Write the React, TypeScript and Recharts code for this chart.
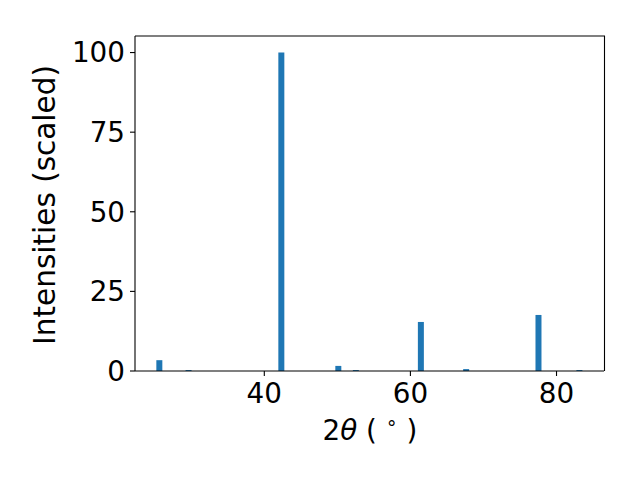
import { Bar, BarChart, Label, XAxis, YAxis } from "recharts";

// posisi puncak (2θ) dan intensitas relatif
const twoTheta = [25.6, 29.6, 42.3, 50.1, 52.5, 61.4, 67.6, 77.5, 83.1];
const intensity = [3.4, 0.3, 100, 1.6, 0.3, 15.4, 0.6, 17.6, 0.3];
const xTicks = [40, 60, 80];
const yTicks = [0, 25, 50, 75, 100];

const data = twoTheta.map((x, i) => ({ x, y: intensity[i] }));

const FONT = "DejaVu Sans";
const FS = 27.8;

export default function App() {
  return (
    <div style={{ position: "absolute", left: 0, top: 0, width: 640, height: 480, background: "#fff" }}>
      <BarChart
        width={640}
        height={480}
        data={data}
        margin={{ top: 36, right: 36, left: 0, bottom: 0 }}
        style={{ fontFamily: FONT }}
      >
        <XAxis
          dataKey="x"
          type="number"
          domain={[22.3, 86.5]}
          ticks={xTicks}
          height={109}
          tickSize={5}
          tickMargin={7}
          stroke="#000"
          tick={{ fill: "#000", fontSize: FS, fontFamily: FONT }}
          tickLine={{ stroke: "#000", strokeWidth: 1.1 }}
          axisLine={{ stroke: "#000", strokeWidth: 1.1 }}
        >
          <Label
            content={() => (
              <text x={370} y={440} textAnchor="middle" fontSize={FS} fontFamily={FONT} fill="#000">
                <tspan>2</tspan>
                <tspan fontStyle="italic">θ</tspan>
                <tspan> ( </tspan>
                <tspan dy={-11} fontSize={19}>∘</tspan>
                <tspan dy={11}> )</tspan>
              </text>
            )}
          />
        </XAxis>
        <YAxis
          type="number"
          domain={[0, 105.2]}
          ticks={yTicks}
          width={135}
          tickSize={5}
          tickMargin={5}
          stroke="#000"
          tick={{ fill: "#000", fontSize: FS, fontFamily: FONT }}
          tickLine={{ stroke: "#000", strokeWidth: 1.1 }}
          axisLine={{ stroke: "#000", strokeWidth: 1.1 }}
        >
          <Label
            content={() => (
              <text
                x={55}
                y={205}
                transform="rotate(-90 55 205)"
                textAnchor="middle"
                fontSize={29.5}
                fontFamily={FONT}
                fill="#000"
              >
                Intensities (scaled)
              </text>
            )}
          />
        </YAxis>
        <Bar dataKey="y" fill="#1f77b4" barSize={6} isAnimationActive={false} />
      </BarChart>
      {/* bingkai atas dan kanan */}
      <svg
        width={640}
        height={480}
        style={{ position: "absolute", left: 0, top: 0, pointerEvents: "none" }}
      >
        <polyline points="135,36 604.5,36 604.5,371" fill="none" stroke="#000" strokeWidth={1.1} />
      </svg>
    </div>
  );
}
